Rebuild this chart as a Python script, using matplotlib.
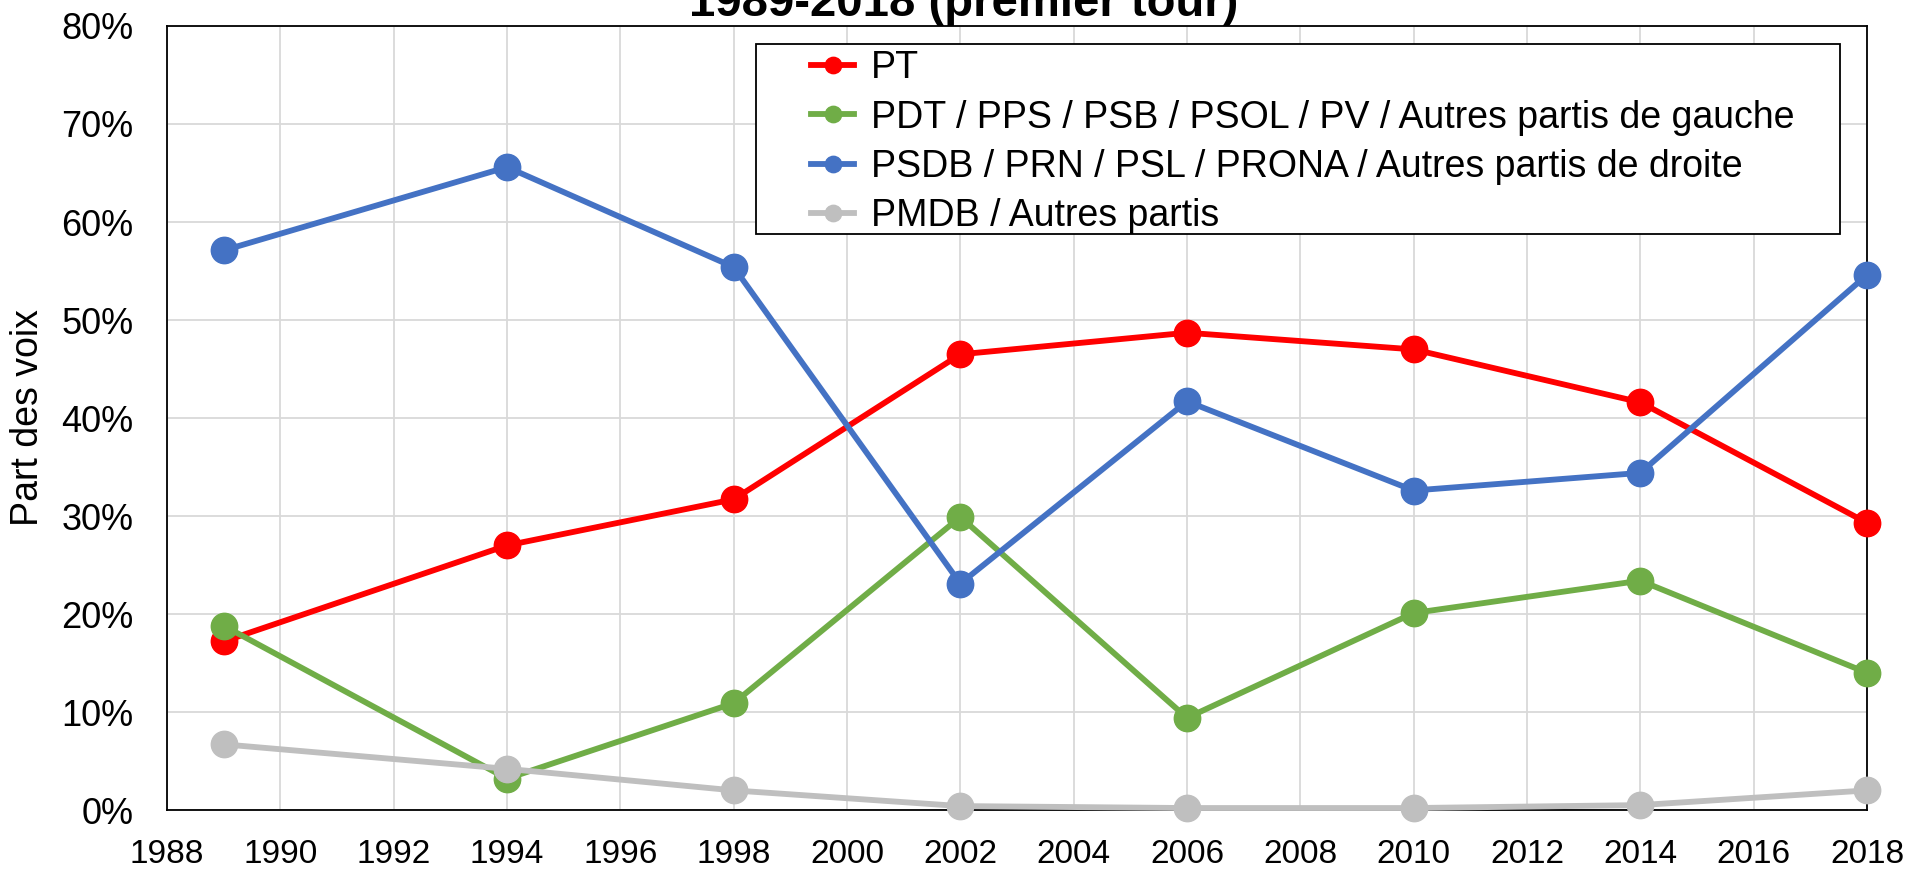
import matplotlib
matplotlib.use("Agg")
import matplotlib.pyplot as plt
from matplotlib.patches import Rectangle
from matplotlib.ticker import FuncFormatter, MultipleLocator

years = [1989, 1994, 1998, 2002, 2006, 2010, 2014, 2018]
pt = [17.2, 27.0, 31.7, 46.5, 48.7, 47.0, 41.6, 29.3]
gauche = [18.8, 3.2, 10.9, 29.9, 9.4, 20.1, 23.4, 14.0]
droite = [57.1, 65.6, 55.4, 23.1, 41.7, 32.6, 34.4, 54.6]
autres = [6.7, 4.2, 2.0, 0.4, 0.2, 0.2, 0.5, 2.0]

series_labels = ["PT",
                 "PDT / PPS / PSB / PSOL / PV / Autres partis de gauche",
                 "PSDB / PRN / PSL / PRONA / Autres partis de droite",
                 "PMDB / Autres partis"]
series_colors = ["#FF0000", "#70AD47", "#4472C4", "#BFBFBF"]
title_text = "1989-2018 (premier tour)"
ylabel_text = "Part des voix"

plt.rcParams['font.family'] = ['Liberation Sans', 'DejaVu Sans']

W, H = 1913, 872
fig = plt.figure(figsize=(W / 100, H / 100), dpi=100)
L, R, T, B = 167, 1867, 26, 810
ax = fig.add_axes([L / W, 1 - B / H, (R - L) / W, (B - T) / H])

for vals, lab, col in zip([pt, gauche, droite, autres], series_labels, series_colors):
    ax.plot(years, vals, color=col, lw=4.2, marker='o', markersize=19,
            label=lab, clip_on=False, zorder=3)

ax.set_xlim(1988, 2018)
ax.set_ylim(0, 80)
ax.xaxis.set_major_locator(MultipleLocator(2))
ax.yaxis.set_major_locator(MultipleLocator(10))
ax.yaxis.set_major_formatter(FuncFormatter(lambda v, p: f"{int(round(v))}%"))
ax.grid(True, color="#D9D9D9", lw=1.3, zorder=0)
ax.set_axisbelow(True)
ax.tick_params(axis='both', length=0)
ax.tick_params(axis='x', pad=21, labelsize=24)
ax.tick_params(axis='y', pad=24, labelsize=26)
for s in ax.spines.values():
    s.set_color("black")
    s.set_linewidth(1.3)

# legend frame
lx0, ly0, lx1, ly1 = 756, 44, 1840, 234
ax.add_patch(Rectangle(((lx0 - L) / (R - L), (B - ly1) / (B - T)),
                       (lx1 - lx0) / (R - L), (ly1 - ly0) / (B - T),
                       transform=ax.transAxes, facecolor="white",
                       edgecolor="black", lw=1.3, zorder=4))
leg = ax.legend(loc='upper left',
                bbox_to_anchor=((811 - L) / (R - L), (B - 50) / (B - T)),
                borderaxespad=0, borderpad=0, frameon=False, fontsize=27,
                handlelength=1.15, handletextpad=0.45, labelspacing=0.36,
                markerscale=0.62)
leg.set_zorder(5)

fig.text(28 / W, 1 - 418 / H, ylabel_text, rotation=90, ha='center',
         va='center', fontsize=27)
fig.text(964 / W, 1 - 16 / H, title_text, ha='center', va='baseline',
         fontsize=34, fontweight='bold')

fig.savefig("out.png", dpi=100)
